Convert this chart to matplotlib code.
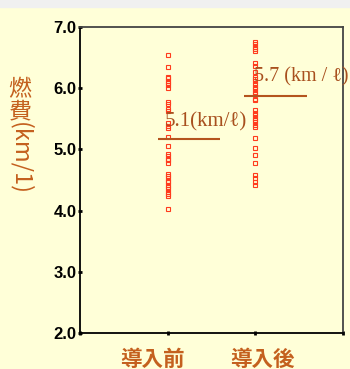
import matplotlib.pyplot as plt
import numpy as np

# fuel economy readings (km/l)
before = [6.55, 6.34, 6.19, 6.16, 6.12, 6.09, 6.05, 6.01, 5.78, 5.74, 5.66, 5.62,
          5.43, 5.39, 5.35, 5.20, 5.06, 4.92, 4.89, 4.85, 4.82, 4.78, 4.60, 4.57,
          4.53, 4.49, 4.46, 4.42, 4.38, 4.35, 4.31, 4.27, 4.24, 4.03]
after = [6.76, 6.72, 6.68, 6.64, 6.60, 6.41, 6.36, 6.27, 6.19, 6.15, 6.11, 6.07,
         6.02, 5.98, 5.94, 5.91, 5.83, 5.80, 5.64, 5.60, 5.56, 5.52, 5.48, 5.44,
         5.40, 5.36, 5.18, 5.03, 4.91, 4.77, 4.58, 4.53, 4.47, 4.42]
groups = ['導入前', '導入後']
mean_lines = [5.17, 5.87]
mean_labels = ['5.1(km/ℓ)', '5.7 (km / ℓ)']
yticks = [2.0, 3.0, 4.0, 5.0, 6.0, 7.0]

bg = '#ffffd8'
brown = '#b4541e'
label_col = '#c4601e'
pt_col = '#ff3c1e'

fig = plt.figure(figsize=(3.5, 3.69), dpi=100, facecolor=bg)
# grey strip along the top edge
fig.patches.append(plt.Rectangle((0, 0.981), 1, 0.019, transform=fig.transFigure,
                                 color='#f0f0f0', zorder=0))
ax = fig.add_axes([0.2286, 0.0976, 0.7514, 0.8292])
ax.set_facecolor(bg)

ax.plot(np.full(len(before), 1.0), before, 's', ms=2.8, mfc='none', mec=pt_col, mew=0.8)
ax.plot(np.full(len(after), 2.0), after, 's', ms=2.8, mfc='none', mec=pt_col, mew=0.8)

ax.hlines(mean_lines[0], 0.89, 1.6, color=brown, lw=1.5)
ax.hlines(mean_lines[1], 1.875, 2.59, color=brown, lw=1.5)

serif = ['Liberation Serif', 'DejaVu Serif']
ax.text(0.966, 5.37, mean_labels[0], family=serif, fontsize=15, color='#a8501e')
ax.text(1.99, 6.11, mean_labels[1], family=serif, fontsize=14.5, color='#a8501e',
        clip_on=False)

ax.set_xlim(0, 3)
ax.set_ylim(2, 7)
ax.set_xticks([0, 1, 2, 3])
ax.set_xticklabels([])
ax.set_yticks(yticks)
ax.set_yticklabels(['%.1f' % v for v in yticks], family='Liberation Sans',
                   fontsize=12, fontweight='bold')
ax.tick_params(direction='inout', length=3, width=2, pad=1)

for s in ['left', 'bottom']:
    ax.spines[s].set_linewidth(1.3)
    ax.spines[s].set_color('black')
for s in ['top', 'right']:
    ax.spines[s].set_linewidth(1.3)
    ax.spines[s].set_color('#444444')

cjk = ['Noto Sans CJK JP', 'DejaVu Sans']
fig.text(152 / 350, 1 - 359 / 369, groups[0], family=cjk, fontsize=15.5, fontweight='bold',
         color=label_col, ha='center', va='center')
fig.text(262 / 350, 1 - 359 / 369, groups[1], family=cjk, fontsize=15.5, fontweight='bold',
         color=label_col, ha='center', va='center')

# y label: kanji upright, the rest turned
fig.text(20 / 350, 1 - 101 / 369, '燃\n費', family=cjk, fontsize=16.5, color=label_col,
         ha='center', va='center', linespacing=0.95)
fig.text(20 / 350, 1 - 159 / 369, '(km/1)', family=cjk, fontsize=17, color=label_col,
         ha='center', va='center', rotation=-90)

fig.savefig('out.png', dpi=100, facecolor=bg)
